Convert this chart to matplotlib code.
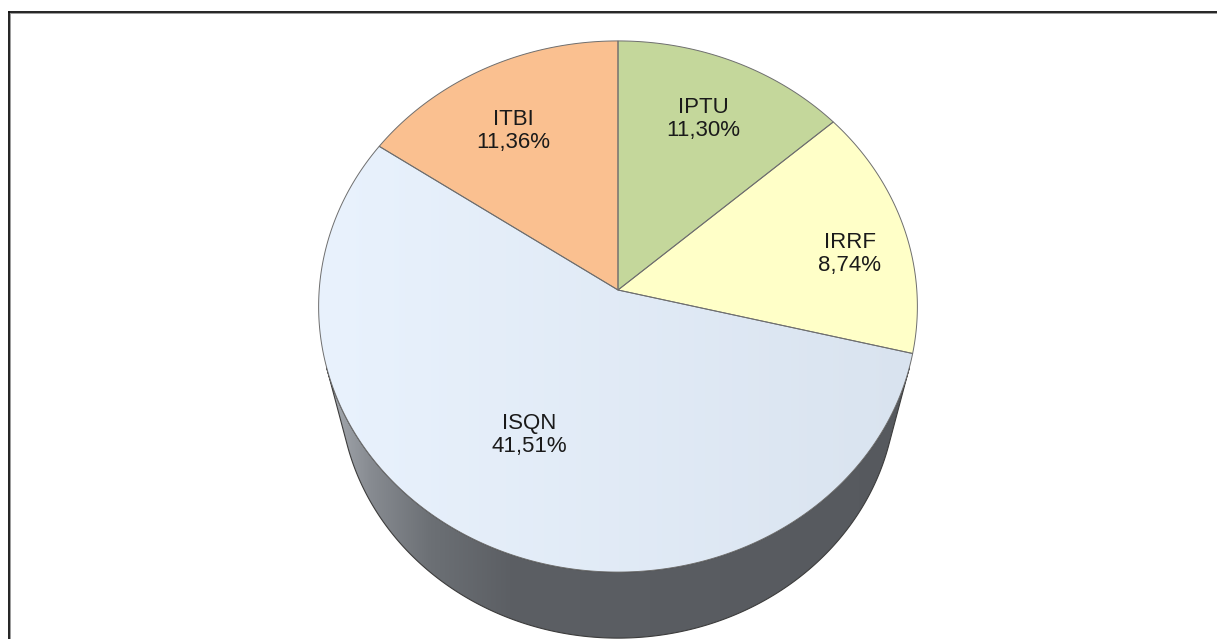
import numpy as np
import matplotlib
matplotlib.use('Agg')
import matplotlib.pyplot as plt
from matplotlib.patches import Polygon
from matplotlib.colors import to_rgb

# ---------------- data ----------------
categories = ['IPTU', 'IRRF', 'ISQN', 'ITBI']
label_values = ['11,30%', '8,74%', '41,51%', '11,36%']
slice_shares = [13.5, 15.3, 55.7, 15.5]          # slice sizes as drawn in the picture (%)
top_colors = ['#c4d79b', '#ffffc8', '#dfe9f6', '#fac090']

# ---------------- layout / camera ----------------
W, H = 1217, 639
phi = np.deg2rad(62.3)          # elevation
S, C = np.sin(phi), np.cos(phi)
D = 7.48                        # camera distance (in radii)
F = 2235.0                      # focal length (px)
CX, CY = 618.0, 290.0           # apex position on screen
HGT = 0.634                     # thickness of the pie (in radii)
label_pos = [(23.75, 0.736), (80.0, 0.795), (208.5, 0.603), (329.7, 0.723)]


def proj(theta_deg, r=1.0, z=0.0):
    t = np.deg2rad(np.asarray(theta_deg, float))
    x = r * np.sin(t)
    y = r * np.cos(t)
    depth = y * C + D - z * S
    sx = F * x / depth
    sy = F * (y * S + z * C) / depth
    return CX + sx, CY - sy


fig = plt.figure(figsize=(W / 100, H / 100), dpi=100)
ax = fig.add_axes([0, 0, 1, 1])
ax.set_xlim(0, W)
ax.set_ylim(H, 0)
ax.axis('off')


def hgrad(stops_x, stops_c, x0, x1, n=400):
    xs = np.linspace(x0, x1, n)
    cols = np.array([to_rgb(c) for c in stops_c])
    img = np.stack([np.interp(xs, stops_x, cols[:, k]) for k in range(3)], axis=-1)
    return np.stack([img, img], axis=0)


# ---------------- side (visible front part) ----------------
th0 = np.degrees(np.arccos(-1.0 / (D * C)))
th1 = 360.0 - th0
ths = np.linspace(th0, th1, 300)
tx, ty = proj(ths, 1.0, 0.0)
bx, by = proj(ths[::-1], 1.0, -HGT)
side_xy = np.column_stack([np.concatenate([tx, bx]), np.concatenate([ty, by])])
side_patch = Polygon(side_xy, closed=True, facecolor='none', edgecolor='none')
ax.add_patch(side_patch)
side_img = hgrad([315, 370, 430, 510, 930],
                 ['#b0b5bb', '#878b91', '#6c7075', '#5c5f64', '#56595e'], 300, 940)
im = ax.imshow(side_img, extent=(300, 940, H + 5, 250), aspect='auto',
               interpolation='bilinear', zorder=1)
im.set_clip_path(side_patch)
ax.add_patch(Polygon(side_xy, closed=True, facecolor='none',
                     edgecolor='#3c3c3c', lw=0.8, zorder=2))

# ---------------- top faces ----------------
shares = np.array(slice_shares, float)
bounds = np.concatenate([[0], np.cumsum(shares) / shares.sum() * 360.0])
for i, cat in enumerate(categories):
    a, b = bounds[i], bounds[i + 1]
    arc = np.linspace(a, b, max(int((b - a) * 2), 10))
    ax_, ay_ = proj(arc)
    xy = np.column_stack([np.concatenate([[CX], ax_]), np.concatenate([[CY], ay_])])
    if cat == 'ISQN':
        p = Polygon(xy, closed=True, facecolor='none', edgecolor='none', zorder=3)
        ax.add_patch(p)
        g = hgrad([318, 920], ['#e9f2fd', '#d9e3ef'], 300, 940)
        gi = ax.imshow(g, extent=(300, 940, 600, 30), aspect='auto',
                       interpolation='bilinear', zorder=3)
        gi.set_clip_path(p)
    else:
        ax.add_patch(Polygon(xy, closed=True, facecolor=top_colors[i],
                             edgecolor='none', zorder=3))
    ax.add_patch(Polygon(xy, closed=True, facecolor='none',
                         edgecolor='#6e6e6e', lw=0.7, zorder=4))

# ---------------- labels ----------------
for i, cat in enumerate(categories):
    lt, lr = label_pos[i]
    lx, ly = proj(lt, lr)
    ax.text(float(lx), float(ly), f'{cat}\n{label_values[i]}', ha='center', va='center',
            fontsize=16, family=['Liberation Sans', 'DejaVu Sans'], color='#1a1a1a',
            linespacing=1.12, zorder=5)

# ---------------- chart frame (left & top visible) ----------------
ax.plot([10.3, 10.3], [13.2, H + 5], color='#9a9a9a', lw=0.7, zorder=6)
ax.plot([10.3, W + 5], [13.2, 13.2], color='#9a9a9a', lw=0.7, zorder=6)
ax.plot([8.8, 8.8], [11.6, H + 5], color='#111111', lw=1.3, zorder=7)
ax.plot([8.8, W + 5], [11.6, 11.6], color='#111111', lw=1.3, zorder=7)

ax.set_xlim(0, W)
ax.set_ylim(H, 0)
fig.savefig('out.png', dpi=100)
